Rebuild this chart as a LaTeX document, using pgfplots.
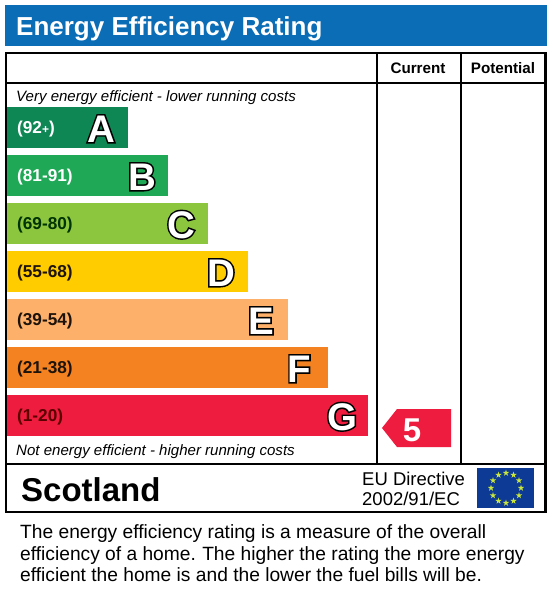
\documentclass[border=0pt]{standalone}
\usepackage{pgfplots}
\pgfplotsset{compat=1.18}
\usepackage{fontspec}
\setmainfont{Liberation Sans}
\definecolor{hdr}{HTML}{0A6DB6}
\definecolor{ca}{HTML}{0F8755}
\definecolor{cb}{HTML}{1FA855}
\definecolor{cc}{HTML}{8CC63F}
\definecolor{cd}{HTML}{FFCC00}
\definecolor{ce}{HTML}{FCB06A}
\definecolor{cf}{HTML}{F58220}
\definecolor{cg}{HTML}{EE1C3E}
\definecolor{flag}{HTML}{0D3A94}
\definecolor{starc}{HTML}{C8E63C}
\newcommand{\fs}[1]{\fontsize{#1}{#1}\selectfont}
\newcommand{\outl}[1]{\rlap{\special{pdf:code q 2 Tr 3 w 0 0 0 RG}#1\special{pdf:code Q}}#1}
\begin{document}
\begin{tikzpicture}[x=1pt,y=-1pt]
\path[use as bounding box,fill=white] (0,0) rectangle (552,613);
\fill[hdr] (5,5) rectangle (546.5,45.5);
\begin{axis}[at={(7pt,-100pt)},anchor=north west,scale only axis,width=538pt,height=360pt,
 xmin=0,xmax=538,ymin=100,ymax=460,y dir=reverse,hide axis,clip=false,
 bar width=41pt,bar shift=0pt]
\addplot[xbar,draw=none,fill=ca] coordinates {(121,127.5)};
\addplot[xbar,draw=none,fill=cb] coordinates {(161,175.5)};
\addplot[xbar,draw=none,fill=cc] coordinates {(201,223.5)};
\addplot[xbar,draw=none,fill=cd] coordinates {(241,271.5)};
\addplot[xbar,draw=none,fill=ce] coordinates {(281,319.5)};
\addplot[xbar,draw=none,fill=cf] coordinates {(321,367.5)};
\addplot[xbar,draw=none,fill=cg] coordinates {(361,415.5)};
\addplot[draw=none,fill=cg,mark=none] coordinates {(375,428)(390,409)(444,409)(444,447)(390,447)} -- cycle;
\end{axis}
\draw[black,line width=2.4pt] (6,53) rectangle (545.5,512);
\draw[black,line width=2.2pt] (6,83) -- (545.5,83) (6,464) -- (545.5,464);
\draw[black,line width=2pt] (377,53) -- (377,464) (461,53) -- (461,464);
\node[anchor=base west,inner sep=0,text=white] at (16,35) {\fs{26}\bfseries Energy Efficiency Rating};
\node[anchor=base,inner sep=0] at (418,73) {\fs{15.2}\bfseries Current};
\node[anchor=base,inner sep=0] at (503,73) {\fs{15.2}\bfseries Potential};
\node[anchor=base west,inner sep=0] at (16,101) {\fs{15.05}\itshape Very energy efficient - lower running costs};
\node[anchor=base west,inner sep=0] at (16,455) {\fs{15.05}\itshape Not energy efficient - higher running costs};
\foreach \y/\t/\c in {133/{(92\fs{12}+\fs{17.2})}/white,181/(81-91)/white,229/(69-80)/black!80!green,277/(55-68)/black!85!brown,325/(39-54)/black!85!brown,373/(21-38)/black!85!brown,421/(1-20)/black!65!red}
  \node[anchor=base west,inner sep=0,text=\c] at (17,\y) {\fs{17.2}\bfseries \t};
\foreach \x/\y/\t in {101/142/A,142/190/B,181/238/C,221/286/D,261/334/E,299/382/F,342/430/G}
  \node[anchor=base,inner sep=0,text=white] at (\x,\y) {\fs{38.5}\bfseries \outl{\t}};
\node[anchor=base,inner sep=0,text=white] at (412,441) {\fs{33}\bfseries 5};
\node[anchor=base west,inner sep=0] at (21,501) {\fs{33}\bfseries Scotland};
\node[anchor=base west,inner sep=0] at (362,485) {\fs{18.5}EU Directive};
\node[anchor=base west,inner sep=0] at (362,505) {\fs{18.5}2002/91/EC};
\fill[flag] (477,468) rectangle (534,508);
\foreach \a in {0,30,...,330}
  \fill[starc,shift={({506+15*cos(\a)},{488+15*sin(\a)})}] (-90:3.4) -- (54:3.4) -- (198:3.4) -- (342:3.4) -- (126:3.4) -- cycle;
\node[anchor=base west,inner sep=0] at (20,538.5) {\fs{19.2}The energy efficiency rating is a measure of the overall};
\node[anchor=base west,inner sep=0] at (20,560) {\fs{19.2}efficiency of a home.\ \hspace{1pt}The higher the rating the more energy};
\node[anchor=base west,inner sep=0] at (20,581) {\fs{19.2}efficient the home is and the lower the fuel bills will be.};
\end{tikzpicture}
\end{document}
